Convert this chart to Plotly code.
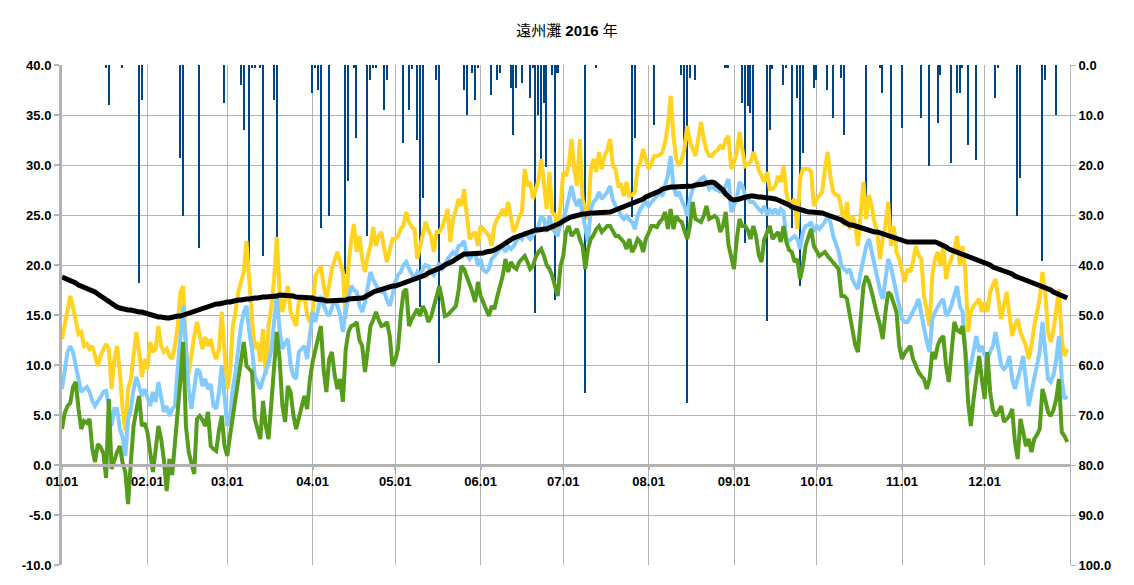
import pandas as pd
import plotly.graph_objects as go

# ---------------- data ----------------
# daily maximum air temperature (yellow), one row per month
tmax = [
    12.6, 13.9, 15.3, 16.9, 15.8, 14.3, 13.1, 13.3, 11.9, 12.1, 11.6, 11.9, 10.8, 9.9, 10.9, 11.6, 12.1, 11.6, 7.6, 10.6, 11.9, 9.3, 5.6, 3.4, 7.6, 8.6, 10.6, 13.3, 11.3, 8.8, 10.6,
    9.6, 12.3, 11.3, 11.6, 13.9, 11.9, 11.3, 11.6, 10.9, 10.6, 11.9, 13.9, 17.3, 17.9, 11.6, 9.1, 11.3, 12.9, 14.3, 12.9, 11.6, 12.8, 11.9, 12.6, 11.3, 10.6, 11.6, 15.3, 11.6,
    7.6, 9.3, 13.9, 15.3, 17.3, 18.3, 19.3, 22.4, 17.9, 14.6, 11.6, 12.3, 10.3, 13.6, 9.0, 13.9, 15.9, 18.5, 22.8, 17.3, 15.3, 16.5, 17.9, 15.3, 14.5, 13.9, 16.3, 16.5, 16.9, 15.0, 14.3,
    15.3, 18.9, 19.5, 19.9, 17.9, 16.6, 18.0, 19.6, 20.5, 21.3, 20.3, 19.3, 14.6, 19.9, 22.5, 24.1, 21.3, 22.9, 20.6, 19.3, 20.8, 21.9, 23.8, 21.9, 22.9, 23.3, 21.6, 20.3, 21.5, 22.6,
    22.6, 22.9, 23.6, 24.0, 25.3, 24.3, 23.8, 23.6, 20.6, 21.9, 23.3, 24.3, 23.5, 22.9, 21.3, 23.3, 23.3, 23.8, 24.6, 25.6, 22.3, 24.6, 25.5, 26.6, 25.9, 27.6, 24.9, 22.6, 23.0, 23.3, 21.9,
    23.9, 23.6, 23.2, 22.9, 21.9, 23.9, 24.6, 25.0, 25.6, 24.9, 26.3, 24.9, 23.3, 23.9, 24.8, 25.3, 29.6, 27.9, 28.3, 26.6, 27.6, 28.5, 30.6, 27.9, 25.6, 29.3, 25.3, 25.0, 23.3, 25.9,
    29.3, 28.9, 30.0, 32.6, 29.6, 27.9, 32.6, 26.6, 25.5, 24.6, 29.6, 30.6, 29.3, 31.3, 29.6, 30.9, 31.5, 32.6, 29.9, 29.6, 27.9, 28.0, 26.9, 28.3, 26.9, 27.0, 27.3, 29.6, 30.3, 31.6, 30.6,
    29.6, 30.2, 30.9, 30.9, 31.0, 31.3, 32.3, 34.0, 36.9, 32.9, 30.6, 29.9, 30.5, 31.6, 33.9, 32.3, 31.5, 30.9, 32.6, 34.3, 32.6, 31.5, 30.9, 30.9, 31.3, 31.5, 31.9, 31.6, 32.5, 32.9, 29.6,
    30.3, 31.3, 33.3, 31.6, 29.9, 30.1, 30.3, 31.3, 30.6, 29.5, 28.9, 28.3, 29.3, 27.6, 27.6, 27.9, 28.9, 28.3, 29.9, 27.3, 25.9, 26.3, 26.6, 23.6, 28.6, 29.6, 29.6, 29.6, 29.3, 25.9,
    26.6, 27.0, 27.3, 29.6, 31.3, 28.9, 27.3, 27.0, 26.9, 25.6, 23.9, 26.3, 23.6, 24.9, 24.0, 21.9, 25.3, 28.3, 24.6, 27.0, 25.9, 24.3, 23.3, 20.6, 22.6, 24.0, 26.3, 21.9, 23.9, 21.3, 20.6,
    19.5, 18.3, 19.6, 19.3, 20.3, 21.9, 21.0, 20.6, 16.9, 15.3, 13.9, 19.0, 20.6, 21.3, 19.9, 21.9, 18.6, 19.9, 20.6, 21.5, 22.9, 19.9, 21.9, 19.3, 13.3, 15.3, 15.9, 16.3, 16.6, 15.3,
    16.3, 15.3, 17.3, 18.0, 18.6, 16.6, 14.6, 15.9, 17.3, 15.0, 12.9, 13.9, 14.6, 13.3, 12.5, 11.9, 10.6, 11.9, 13.9, 15.3, 16.6, 19.3, 17.3, 13.3, 12.3, 13.5, 15.3, 17.6, 12.6, 10.9, 11.6,
]

# daily mean air temperature (light blue)
tmean = [
    7.6, 9.3, 11.3, 11.9, 11.3, 9.9, 8.6, 7.3, 7.6, 7.8, 7.3, 6.4, 5.9, 6.3, 6.8, 7.3, 7.4, 5.9, 3.9, 5.6, 5.6, 3.6, 2.8, 0.9, 4.6, 5.6, 7.6, 8.8, 7.9, 6.9, 7.6,
    6.6, 5.9, 7.3, 6.3, 8.3, 6.9, 5.3, 5.9, 4.9, 5.6, 5.9, 9.6, 13.3, 15.9, 11.9, 7.6, 5.6, 7.3, 9.6, 9.3, 7.9, 8.6, 7.6, 8.1, 5.9, 5.6, 7.3, 9.9, 7.3,
    3.9, 4.9, 7.6, 9.3, 11.9, 13.9, 15.3, 15.9, 13.3, 11.6, 8.9, 8.3, 7.6, 8.6, 9.3, 10.2, 11.5, 14.5, 17.0, 13.5, 11.6, 12.2, 12.6, 10.0, 8.9, 8.6, 11.3, 11.6, 11.9, 10.6, 13.3,
    15.3, 14.3, 15.5, 16.9, 16.0, 15.3, 14.9, 15.8, 16.6, 15.9, 15.0, 13.3, 15.5, 16.6, 17.9, 17.5, 17.3, 16.0, 15.3, 16.3, 17.8, 19.3, 18.5, 17.9, 17.5, 17.3, 17.3, 16.5, 15.9, 17.0,
    18.3, 19.0, 19.3, 20.0, 20.3, 19.6, 19.0, 18.6, 19.3, 19.0, 19.6, 20.0, 19.9, 19.3, 19.0, 19.6, 20.2, 19.6, 19.9, 20.6, 20.9, 21.3, 21.0, 21.9, 22.0, 22.4, 21.0, 20.6, 21.0, 21.3, 19.9,
    20.6, 19.5, 19.3, 19.6, 20.6, 20.9, 21.3, 21.6, 21.9, 21.3, 21.9, 21.6, 21.9, 22.5, 22.9, 22.6, 23.3, 22.9, 22.6, 23.0, 23.3, 23.9, 24.9, 24.6, 23.3, 24.9, 23.6, 23.3, 22.9, 24.3,
    24.6, 25.5, 26.6, 27.9, 26.6, 25.9, 26.6, 25.0, 23.9, 22.3, 25.6, 26.3, 26.6, 27.3, 26.6, 26.9, 27.3, 27.9, 26.5, 25.9, 25.6, 24.9, 24.6, 24.9, 24.5, 24.3, 23.6, 24.9, 25.6, 26.0, 26.3,
    25.9, 26.3, 26.6, 26.9, 27.3, 26.9, 27.9, 29.0, 30.9, 27.9, 26.9, 27.3, 26.5, 25.9, 24.9, 26.6, 27.6, 28.0, 28.3, 28.6, 28.8, 28.3, 27.6, 27.9, 27.6, 27.5, 27.3, 27.3, 28.0, 28.6, 25.3,
    25.9, 26.6, 28.3, 27.9, 27.0, 26.6, 26.3, 26.3, 25.9, 25.6, 25.3, 25.9, 25.0, 25.5, 25.2, 25.6, 25.0, 25.6, 25.3, 22.6, 22.4, 22.6, 22.9, 22.6, 21.6, 23.3, 23.9, 24.0, 24.3, 23.3,
    23.9, 23.6, 24.0, 24.3, 24.9, 24.3, 22.9, 22.0, 21.3, 19.9, 19.6, 19.3, 19.6, 18.6, 18.0, 17.6, 19.3, 20.6, 21.9, 22.6, 21.3, 20.0, 18.8, 17.5, 16.6, 18.9, 20.6, 19.8, 18.5, 17.0, 15.9,
    14.6, 14.3, 14.3, 14.8, 15.3, 15.9, 16.6, 15.0, 13.5, 12.3, 11.3, 14.6, 15.3, 15.9, 16.3, 16.6, 14.9, 15.3, 16.0, 17.0, 17.9, 15.9, 15.3, 11.5, 9.0, 10.0, 11.3, 12.9, 11.3, 11.9,
    11.0, 10.6, 11.3, 11.9, 13.3, 11.3, 10.0, 9.6, 9.9, 10.9, 8.6, 7.6, 8.5, 9.6, 10.9, 7.9, 5.9, 7.3, 8.5, 9.9, 11.3, 14.3, 11.3, 8.6, 8.3, 9.0, 10.6, 12.9, 8.6, 6.6, 6.9,
]

# daily minimum air temperature (green)
tmin = [
    3.6, 5.2, 5.9, 6.2, 7.8, 8.3, 5.6, 3.6, 4.4, 4.2, 4.6, 1.6, 0.3, 2.1, 1.8, 1.2, -1.3, 6.6, -0.4, 0.5, 1.3, 1.9, 0.2, -0.7, -3.9, 0.3, 3.9, 5.5, 6.9, 3.9, 4.2,
    3.3, 1.6, -0.7, 1.5, 3.9, 2.6, 0.5, -2.6, 0.6, -1.0, 1.9, 4.6, 8.5, 12.3, 3.9, 1.3, 0.3, -0.9, 4.6, 4.9, 4.5, 3.9, 5.3, 1.9, 1.6, 1.4, 3.5, 4.9, 1.9,
    0.9, 2.9, 4.8, 6.6, 8.3, 10.5, 12.3, 9.9, 9.6, 9.3, 4.6, 3.5, 2.6, 6.4, 3.9, 2.6, 6.3, 9.5, 13.3, 10.6, 6.0, 4.3, 7.9, 7.3, 5.0, 3.6, 4.6, 5.8, 6.9, 5.6, 8.5,
    10.3, 11.6, 12.5, 13.9, 9.5, 7.3, 10.6, 11.3, 9.0, 7.6, 8.6, 6.3, 11.5, 13.3, 13.9, 14.0, 14.3, 12.5, 11.9, 9.3, 11.5, 13.9, 14.5, 15.3, 14.5, 13.9, 14.0, 14.3, 12.9, 9.9,
    10.5, 11.6, 15.0, 17.3, 17.6, 13.9, 14.6, 15.2, 15.6, 14.9, 15.9, 15.3, 14.3, 14.8, 15.9, 17.0, 17.9, 16.6, 14.9, 15.0, 15.3, 15.5, 15.9, 17.5, 19.9, 19.6, 18.9, 18.0, 17.3, 16.3, 18.3,
    16.9, 16.3, 15.5, 14.9, 15.9, 15.6, 16.8, 17.8, 18.9, 20.6, 19.3, 20.3, 19.8, 19.6, 20.3, 20.6, 20.9, 20.3, 19.6, 19.9, 20.8, 21.3, 21.6, 20.9, 20.0, 19.6, 18.9, 17.9, 16.9, 19.9,
    20.9, 23.3, 23.9, 22.9, 23.3, 23.6, 22.6, 21.9, 19.6, 21.6, 22.6, 23.0, 23.6, 23.9, 23.3, 23.6, 23.9, 23.9, 23.3, 22.9, 22.9, 22.6, 22.3, 21.6, 22.6, 21.3, 21.8, 22.6, 22.3, 21.3, 22.6,
    23.2, 23.9, 23.9, 23.8, 24.3, 24.6, 25.3, 23.6, 25.6, 23.6, 24.9, 24.5, 24.3, 23.3, 22.6, 23.9, 26.3, 24.6, 24.5, 24.3, 24.9, 25.9, 24.6, 24.8, 24.9, 24.6, 23.3, 23.9, 25.3, 22.0, 20.9,
    19.6, 22.6, 24.6, 23.9, 23.9, 23.5, 22.6, 23.9, 22.9, 21.0, 20.3, 22.6, 23.3, 23.9, 22.6, 23.0, 23.3, 22.3, 23.9, 22.3, 21.5, 21.3, 20.3, 20.6, 18.6, 19.9, 21.9, 22.8, 23.6, 21.9,
    21.3, 20.9, 21.1, 21.3, 20.9, 20.6, 20.3, 20.0, 19.6, 16.9, 16.9, 16.6, 14.9, 13.3, 12.0, 11.3, 14.9, 17.9, 18.9, 18.3, 17.3, 15.9, 15.0, 14.0, 12.6, 15.3, 17.3, 17.0, 16.0, 15.3, 11.9,
    10.6, 11.2, 11.6, 11.9, 10.6, 9.9, 9.3, 8.9, 8.6, 7.6, 8.6, 11.3, 10.6, 12.0, 12.6, 12.9, 9.9, 8.3, 11.3, 14.3, 13.5, 13.3, 13.9, 11.3, 6.3, 3.9, 6.6, 9.0, 10.9, 8.6,
    6.6, 11.3, 7.3, 5.5, 4.9, 5.3, 5.9, 4.3, 4.6, 4.9, 5.6, 2.3, 0.6, 4.6, 3.3, 1.9, 2.6, 1.3, 2.6, 3.0, 3.6, 7.6, 6.6, 5.3, 4.9, 5.5, 6.6, 8.6, 3.3, 2.9, 2.3,
]

# sea surface temperature (black, smooth)
sst = [
    18.8, 18.7, 18.6, 18.5, 18.3, 18.2, 18.0, 17.9, 17.8, 17.7, 17.6, 17.4, 17.3, 17.1, 16.9, 16.7, 16.6, 16.4, 16.2, 16.0, 15.8, 15.7, 15.6, 15.6, 15.5, 15.5, 15.4, 15.4, 15.3, 15.3, 15.2,
    15.1, 15.0, 14.9, 14.9, 14.8, 14.8, 14.7, 14.7, 14.7, 14.8, 14.8, 14.9, 14.9, 15.0, 15.1, 15.2, 15.3, 15.4, 15.5, 15.6, 15.7, 15.8, 15.9, 16.0, 16.0, 16.1, 16.1, 16.2, 16.2,
    16.3, 16.3, 16.4, 16.4, 16.5, 16.5, 16.6, 16.6, 16.6, 16.7, 16.7, 16.7, 16.8, 16.8, 16.8, 16.8, 16.9, 16.9, 16.9, 17.0, 17.0, 17.0, 17.0, 16.9, 16.9, 16.8, 16.8, 16.8, 16.7, 16.7, 16.7,
    16.7, 16.6, 16.6, 16.5, 16.5, 16.4, 16.4, 16.4, 16.4, 16.5, 16.5, 16.5, 16.5, 16.6, 16.6, 16.6, 16.6, 16.7, 16.7, 16.8, 17.0, 17.2, 17.3, 17.4, 17.5, 17.6, 17.7, 17.8, 17.8, 17.9,
    17.9, 18.0, 18.0, 18.1, 18.2, 18.3, 18.4, 18.5, 18.6, 18.7, 18.8, 19.0, 19.2, 19.3, 19.4, 19.6, 19.7, 19.8, 20.0, 20.1, 20.2, 20.4, 20.6, 20.8, 21.0, 21.1, 21.1, 21.1, 21.1, 21.1, 21.1,
    21.2, 21.2, 21.3, 21.3, 21.4, 21.5, 21.6, 21.8, 22.0, 22.2, 22.4, 22.5, 22.7, 22.8, 22.9, 23.0, 23.2, 23.3, 23.4, 23.5, 23.5, 23.5, 23.6, 23.6, 23.6, 23.7, 23.8, 23.9, 24.1, 24.2,
    24.4, 24.6, 24.7, 24.8, 24.9, 25.0, 25.0, 25.1, 25.1, 25.2, 25.2, 25.2, 25.2, 25.3, 25.3, 25.3, 25.3, 25.3, 25.4, 25.5, 25.6, 25.7, 25.8, 25.9, 26.1, 26.2, 26.3, 26.4, 26.5, 26.6, 26.8,
    26.9, 27.0, 27.2, 27.3, 27.4, 27.6, 27.7, 27.8, 27.8, 27.8, 27.8, 27.8, 27.8, 27.8, 27.9, 27.9, 27.9, 28.0, 28.0, 28.1, 28.1, 28.2, 28.3, 28.3, 28.2, 28.0, 27.8, 27.5, 27.1, 26.8, 26.6,
    26.5, 26.5, 26.6, 26.7, 26.8, 26.8, 26.9, 26.9, 26.8, 26.8, 26.8, 26.7, 26.7, 26.7, 26.7, 26.6, 26.5, 26.4, 26.3, 26.2, 26.0, 25.8, 25.7, 25.6, 25.5, 25.4, 25.4, 25.3, 25.3, 25.3,
    25.3, 25.2, 25.2, 25.1, 25.0, 25.0, 24.9, 24.8, 24.7, 24.5, 24.3, 24.1, 24.0, 24.0, 23.9, 23.8, 23.8, 23.7, 23.6, 23.5, 23.4, 23.3, 23.3, 23.2, 23.2, 23.1, 23.0, 22.9, 22.8, 22.6, 22.5,
    22.4, 22.4, 22.3, 22.3, 22.3, 22.4, 22.4, 22.4, 22.4, 22.4, 22.4, 22.4, 22.3, 22.2, 22.1, 22.0, 21.8, 21.6, 21.5, 21.4, 21.3, 21.1, 21.0, 20.9, 20.8, 20.7, 20.6, 20.5, 20.4, 20.3,
    20.2, 20.1, 20.0, 19.8, 19.7, 19.6, 19.5, 19.5, 19.4, 19.3, 19.1, 18.9, 18.8, 18.7, 18.5, 18.4, 18.3, 18.2, 18.1, 18.0, 17.9, 17.8, 17.7, 17.6, 17.5, 17.3, 17.2, 17.0, 16.9, 16.8, 16.7,
]

# precipitation (mm): day of year (0 = Jan 1) and amount
rain_day = [16, 17, 22, 28, 29, 43, 44, 50, 59, 65,
            66, 68, 69, 70, 72, 73, 77, 78, 91, 92,
            93, 94, 97, 103, 104, 106, 107, 111, 112, 113,
            114, 117, 118, 124, 126, 127, 129, 130, 131, 136,
            137, 146, 147, 149, 150, 151, 156, 158, 159, 163,
            164, 165, 167, 170, 171, 172, 173, 174, 175, 176,
            178, 179, 180, 190, 194, 207, 208, 215, 225, 226,
            227, 228, 230, 241, 242, 247, 248, 249, 250, 251,
            256, 257, 258, 262, 263, 265, 267, 268, 269, 273,
            274, 278, 280, 283, 284, 292, 297, 298, 301, 305,
            312, 315, 318, 319, 323, 325, 326, 327, 329, 332,
            339, 340, 347, 348, 356, 357, 361]
rain_mm = [0.5, 7.9, 0.6, 43.5, 6.9, 18.5, 30.1, 36.5, 7.5, 3.9,
           12.9, 42.2, 0.5, 0.5, 0.5, 38.2, 6.9, 34.3, 5.5, 0.5,
           4.9, 32.5, 30.1, 41.7, 23.1, 0.5, 14.5, 34.1, 2.9, 0.5,
           0.5, 8.9, 2.9, 15.5, 8.9, 0.8, 14.9, 48.3, 26.5, 2.9,
           59.5, 4.9, 9.9, 1.5, 6.9, 0.5, 5.9, 2.9, 1.5, 4.5,
           13.9, 4.5, 3.5, 6.5, 0.5, 49.5, 9.9, 18.8, 7.5, 20.3,
           1.9, 47.0, 1.5, 65.5, 0.5, 30.3, 14.5, 11.9, 1.9, 15.2,
           67.5, 2.5, 2.9, 0.5, 0.5, 7.5, 35.5, 8.2, 9.5, 18.5,
           51.2, 12.9, 0.8, 3.9, 0.5, 32.5, 6.5, 44.1, 17.5, 4.5,
           2.9, 4.9, 10.5, 2.5, 13.9, 28.5, 0.5, 5.5, 33.2, 12.5,
           10.5, 20.2, 11.5, 1.9, 19.5, 5.5, 5.5, 0.5, 15.9, 18.9,
           6.5, 0.5, 30.1, 22.5, 39.1, 2.9, 9.9]

month_ticks = ["01.01", "02.01", "03.01", "04.01", "05.01", "06.01",
               "07.01", "08.01", "09.01", "10.01", "11.01", "12.01"]
temp_ticks = [-10, -5, 0, 5, 10, 15, 20, 25, 30, 35, 40]
rain_ticks = [0, 10, 20, 30, 40, 50, 60, 70, 80, 90, 100]
title_text = "遠州灘 <b>2016</b> 年"

# ---------------- figure ----------------
days = pd.date_range("2016-01-01", "2016-12-31", freq="D")
month_starts = pd.date_range("2016-01-01", "2016-12-01", freq="MS")

GRID = "#b3b3b3"
FONT = "Liberation Sans, Arial, Noto Sans CJK JP, sans-serif"
tickfont = dict(family=FONT, size=13, color="#000000", weight="bold")

# the page adds an 8 px body margin, so the figure is sized to fit inside it
W, H = 1118, 569

fig = go.Figure()

fig.add_trace(go.Bar(
    x=[days[i] for i in rain_day], y=rain_mm, yaxis="y",
    marker=dict(color="#004586", line=dict(width=0)),
    width=0.55 * 86400000, hoverinfo="skip",
))

for series, color, w in [(tmax, "#ffd320", 4), (tmean, "#83caff", 4),
                         (tmin, "#579d1c", 4), (sst, "#000000", 5)]:
    fig.add_trace(go.Scatter(
        x=days[:len(series)], y=series, yaxis="y2", mode="lines",
        line=dict(color=color, width=w), hoverinfo="skip",
    ))

fig.update_layout(
    width=W, height=H,
    margin=dict(l=54, r=56, t=57, b=12),
    paper_bgcolor="white", plot_bgcolor="white",
    showlegend=False,
    bargap=0,
    title=dict(text=title_text, x=0.5, xref="container", xanchor="center",
               y=1 - 23 / H, yref="container", yanchor="middle",
               font=dict(family=FONT, size=15, color="#000000")),
    xaxis=dict(
        type="date", range=["2016-01-01", "2017-01-01"],
        tickmode="array", tickvals=list(month_starts), ticktext=month_ticks,
        showgrid=True, gridcolor=GRID, gridwidth=1,
        showline=True, linecolor=GRID, linewidth=3,
        ticks="outside", ticklen=3, tickwidth=2, tickcolor=GRID,
        tickfont=tickfont, zeroline=False,
        anchor="free", position=0.2, automargin=False,
    ),
    yaxis=dict(
        range=[100, 0], side="right",
        tickmode="array", tickvals=rain_ticks,
        ticktext=[f"{v:.1f}" for v in rain_ticks],
        showgrid=False, zeroline=False,
        showline=True, linecolor=GRID, linewidth=1,
        ticks="outside", ticklen=5, tickwidth=1, tickcolor=GRID,
        tickfont=tickfont, automargin=False,
    ),
    yaxis2=dict(
        range=[-10, 40], side="left", overlaying="y",
        tickmode="array", tickvals=temp_ticks,
        ticktext=[f"{v:.1f}" for v in temp_ticks],
        showgrid=True, gridcolor=GRID, gridwidth=1, zeroline=False,
        showline=True, linecolor=GRID, linewidth=3,
        ticks="outside", ticklen=5, tickwidth=2, tickcolor=GRID,
        tickfont=tickfont, automargin=False,
    ),
)

fig.write_html("out.html")
